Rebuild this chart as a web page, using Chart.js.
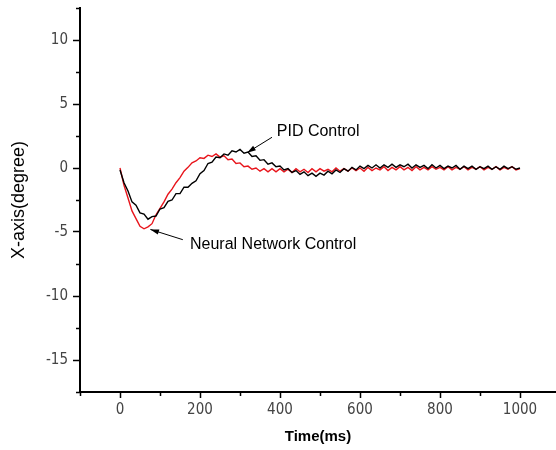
<!DOCTYPE html>
<html>
<head>
<meta charset="utf-8">
<script src="https://cdn.jsdelivr.net/npm/chart.js@4/dist/chart.umd.min.js"></script>
<style>
  html, body { margin: 0; padding: 0; background: #fff; }
  #wrap { width: 556px; height: 450px; position: relative; }
</style>
</head>
<body>
<div id="wrap"><canvas id="c"></canvas></div>
<script>
// time axis (ms)
const timeMs = [0,10,20,30,40,50,60,70,80,90,100,110,120,130,140,150,160,170,180,190,
  200,210,220,230,240,250,260,270,280,290,300,310,320,330,340,350,360,370,380,390,
  400,410,420,430,440,450,460,470,480,490,500,510,520,530,540,550,560,570,580,590,
  600,610,620,630,640,650,660,670,680,690,700,710,720,730,740,750,760,770,780,790,
  800,810,820,830,840,850,860,870,880,890,900,910,920,930,940,950,960,970,980,990,1000];

// PID Control (black)
const pidDeg = [-0.15,-1.15,-1.8,-2.65,-2.9,-3.5,-3.6,-4.0,-3.8,-3.75,-3.2,-3.1,-2.6,-2.5,-2.0,-2.0,-1.5,-1.5,-1.2,-1.0,
  -0.45,-0.2,0.35,0.45,0.85,0.8,1.1,1.0,1.35,1.25,1.45,1.15,1.25,0.9,0.95,0.6,0.65,0.3,0.4,0.1,
  0.15,-0.15,-0.05,-0.35,-0.2,-0.5,-0.3,-0.6,-0.4,-0.65,-0.4,-0.55,-0.25,-0.45,-0.15,-0.35,-0.05,-0.25,0.05,-0.15,
  0.15,-0.05,0.2,0.0,0.25,0.0,0.25,0.05,0.3,0.05,0.25,0.1,0.3,0.0,0.25,0.05,0.2,-0.05,0.25,0.0,
  0.2,-0.05,0.15,0.0,0.2,-0.1,0.15,-0.05,0.15,-0.1,0.1,-0.05,0.15,-0.1,0.1,-0.1,0.15,-0.05,0.1,-0.1,0.0];

// Neural Network Control (red)
const nnDeg = [0.0,-1.35,-2.35,-3.35,-3.95,-4.55,-4.75,-4.6,-4.35,-3.65,-3.15,-2.65,-2.05,-1.65,-1.15,-0.75,-0.25,0.05,0.4,0.55,
  0.8,0.75,1.0,0.9,1.1,0.85,0.95,0.65,0.7,0.35,0.4,0.1,0.15,-0.1,0.0,-0.25,-0.05,-0.3,-0.05,-0.3,
  -0.05,-0.3,-0.1,-0.35,-0.05,-0.3,-0.1,-0.35,-0.05,-0.3,-0.05,-0.25,-0.1,-0.3,0.0,-0.25,-0.05,-0.25,0.0,-0.2,
  0.0,-0.25,0.05,-0.2,0.0,-0.15,0.1,-0.2,0.05,-0.15,0.1,-0.15,0.05,-0.2,0.1,-0.15,0.05,-0.15,0.1,-0.1,
  0.05,-0.15,0.1,-0.15,0.05,-0.1,0.1,-0.15,0.05,-0.1,0.1,-0.15,0.05,-0.1,0.1,-0.15,0.05,-0.1,0.1,-0.15,-0.05];

const xTicks = [0, 200, 400, 600, 800, 1000];
const xMinor = [-100, 100, 300, 500, 700, 900];
const yTicks = [-15, -10, -5, 0, 5, 10];
const yMinor = [-17.5, -12.5, -7.5, -2.5, 2.5, 7.5, 12.5];

// annotation labels: [text, labelX, labelY, arrowFromX, arrowFromY, arrowToX, arrowToY]
const notes = [
  ['PID Control', 392, 2.85, 380, 2.4, 318, 1.2],
  ['Neural Network Control', 175, -5.95, 157, -5.6, 76, -4.8]
];

const tickFont = { family: "'Liberation Sans Narrow', 'DejaVu Sans Condensed', 'Liberation Sans', Arial", size: 15 };

function toPoints(xs, ys) {
  return xs.map((x, i) => ({ x: x, y: ys[i] }));
}

const extras = {
  id: 'extras',
  afterDraw(chart) {
    const c = chart.ctx;
    const xs = chart.scales.x, ys = chart.scales.y;
    const bottom = chart.chartArea.bottom, left = chart.chartArea.left;
    c.save();
    c.strokeStyle = '#000';
    c.lineWidth = 1.5;
    // minor ticks
    xMinor.forEach(v => {
      const px = Math.round(xs.getPixelForValue(v)) + 0.5;
      c.beginPath(); c.moveTo(px, bottom); c.lineTo(px, bottom + 4); c.stroke();
    });
    yMinor.forEach(v => {
      const py = Math.round(ys.getPixelForValue(v)) + 0.5;
      c.beginPath(); c.moveTo(left, py); c.lineTo(left - 4, py); c.stroke();
    });
    // annotations
    c.fillStyle = '#000';
    c.font = "16px 'Liberation Sans', Arial, sans-serif";
    c.textBaseline = 'middle';
    c.lineWidth = 1;
    notes.forEach(n => {
      c.fillText(n[0], xs.getPixelForValue(n[1]), ys.getPixelForValue(n[2]));
      const x0 = xs.getPixelForValue(n[3]), y0 = ys.getPixelForValue(n[4]);
      const x1 = xs.getPixelForValue(n[5]), y1 = ys.getPixelForValue(n[6]);
      c.beginPath(); c.moveTo(x0, y0); c.lineTo(x1, y1); c.stroke();
      const a = Math.atan2(y1 - y0, x1 - x0);
      c.beginPath();
      c.moveTo(x1, y1);
      c.lineTo(x1 - 9 * Math.cos(a - 0.3), y1 - 9 * Math.sin(a - 0.3));
      c.lineTo(x1 - 9 * Math.cos(a + 0.3), y1 - 9 * Math.sin(a + 0.3));
      c.closePath(); c.fill();
    });
    c.restore();
  }
};

new Chart(document.getElementById('c'), {
  type: 'line',
  data: {
    datasets: [
      { label: 'PID Control', data: toPoints(timeMs, pidDeg), borderColor: '#000', borderWidth: 1.4, pointRadius: 0, tension: 0 },
      { label: 'Neural Network Control', data: toPoints(timeMs, nnDeg), borderColor: '#e8141b', borderWidth: 1.4, pointRadius: 0, tension: 0 }
    ]
  },
  options: {
    responsive: true,
    maintainAspectRatio: false,
    animation: false,
    layout: { padding: { top: 8, right: 0, left: 0, bottom: 0 } },
    plugins: { legend: { display: false }, tooltip: { enabled: false } },
    scales: {
      x: {
        type: 'linear', min: -100, max: 1090,
        afterBuildTicks: s => { s.ticks = xTicks.map(v => ({ value: v })); },
        afterFit: s => { s.height = 58; s.paddingLeft = 0; s.paddingRight = 0; },
        grid: { drawOnChartArea: false, drawTicks: true, tickLength: 6, tickColor: '#000', tickWidth: 1.5 },
        border: { display: true, color: '#000', width: 2 },
        ticks: { color: '#444', font: tickFont, padding: 3, maxRotation: 0, callback: v => String(v) },
        title: { display: true, text: 'Time(ms)', color: '#000', font: { family: "'Liberation Sans', Arial", size: 15, weight: 'bold' }, padding: { top: 4, bottom: 4 } }
      },
      y: {
        type: 'linear', min: -17.5, max: 12.5,
        afterBuildTicks: s => { s.ticks = yTicks.map(v => ({ value: v })); },
        afterFit: s => { s.width = 80; s.paddingTop = 0; s.paddingBottom = 0; },
        grid: { drawOnChartArea: false, drawTicks: true, tickLength: 7, tickColor: '#000', tickWidth: 1.5 },
        border: { display: true, color: '#000', width: 2 },
        ticks: { color: '#444', font: tickFont, padding: 5, callback: v => String(v) },
        title: { display: true, text: 'X-axis(degree)', color: '#000', font: { family: "'Liberation Sans', Arial", size: 18 }, padding: { top: 8, bottom: 0 } }
      }
    }
  },
  plugins: [extras]
});
</script>
</body>
</html>
